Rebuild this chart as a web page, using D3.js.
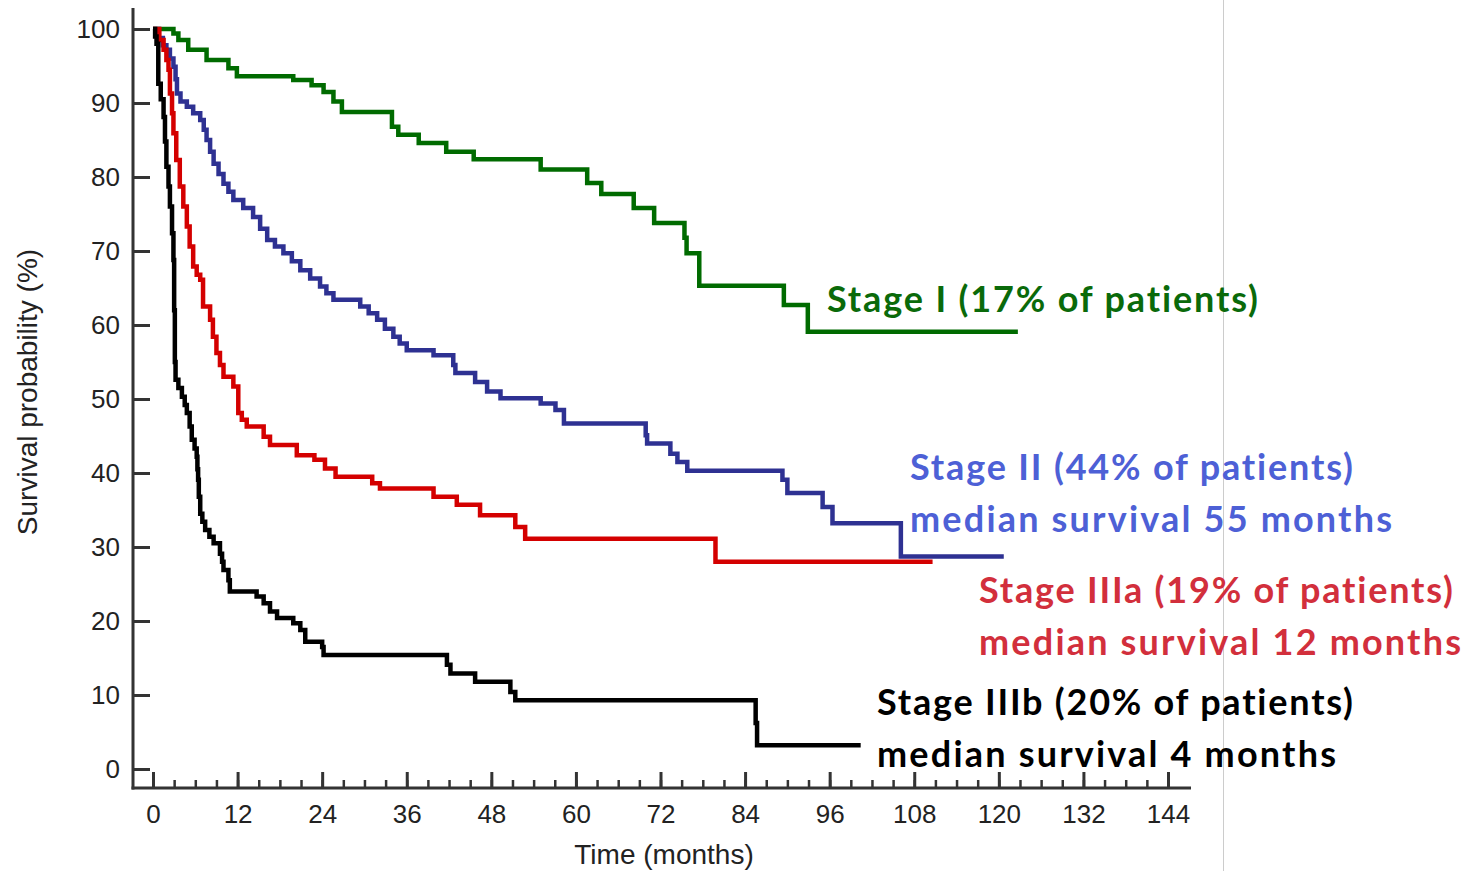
<!DOCTYPE html>
<html>
<head>
<meta charset="utf-8">
<script src="https://cdnjs.cloudflare.com/ajax/libs/d3/7.8.5/d3.min.js"></script>
<style>
  body { margin: 0; background: #fff; }
  svg { display: block; }
</style>
</head>
<body>
<div id="chart"></div>
<script>
// Kaplan-Meier survival by stage (months, %)

var xTicks = d3.range(0, 145, 12);
var xMinorTicks = d3.range(0, 145, 3);
var yTicks = d3.range(0, 101, 10);

var stageITime = [0, 2.9, 3.6, 5.0, 7.6, 10.7, 11.9, 19.9, 22.5, 24.2, 25.6, 26.8, 33.9, 34.8, 37.7, 41.6,
  45.5, 55, 61.6, 63.6, 68.2, 71.1, 75.4, 75.7, 77.5, 89.5, 92.9, 122.7];
var stageISurv = [100, 99.4, 98.5, 97.2, 95.8, 94.7, 93.6, 93.1, 92.4, 91.5, 90.2, 88.8, 86.8, 85.7, 84.6, 83.4,
  82.4, 81.0, 79.2, 77.7, 75.8, 73.8, 71.8, 69.7, 65.3, 62.7, 59.1, 59.1];

var stageIITime = [0, 0.8, 1.4, 1.9, 2.4, 2.9, 3.2, 3.4, 3.9, 4.8, 5.7, 6.7, 7.2, 7.6, 8.1, 8.6, 9.3, 10, 10.7,
  11.4, 12.8, 14.2, 15.2, 16.2, 17.3, 18.5, 19.7, 20.9, 22.3, 23.7, 24.6, 25.6, 29.4, 30.6, 31.8, 32.9, 34.1,
  35, 36, 39.8, 42.6, 42.9, 45.7, 47.4, 49.3, 55, 57.1, 58.3, 69.9, 70.1, 73.4, 74.4, 75.8, 89.3, 90, 95, 96.4,
  106.1, 120.7];
var stageIISurv = [100, 98.8, 97.8, 97.2, 96, 94.9, 93.2, 91.3, 90.2, 89.5, 88.6, 87.7, 86.4, 85, 83.4, 81.8,
  80.4, 79.1, 78, 76.9, 75.8, 74.6, 73, 71.5, 70.6, 69.7, 68.6, 67.4, 66.3, 65.2, 64.3, 63.4, 62.5, 61.6, 60.7,
  59.5, 58.4, 57.5, 56.6, 55.9, 54.6, 53.5, 52.3, 51, 50.1, 49.4, 48.5, 46.7, 45.1, 44, 42.6, 41.5, 40.3, 39.1,
  37.3, 35.4, 33.2, 28.7, 28.7];

var stageIIIaTime = [0, 0.9, 1.5, 1.9, 2.2, 2.4, 2.7, 2.9, 3.3, 3.8, 4.3, 4.8, 5.2, 5.7, 6.2, 6.7, 7.1, 8.1,
  8.5, 9, 9.5, 10, 11.4, 12.1, 12.6, 13.3, 15.7, 16.6, 20.4, 22.9, 24.4, 25.9, 31.1, 32.2, 39.8, 43.1, 46.4,
  51.4, 52.8, 79.8, 110.6];
var stageIIIaSurv = [100, 98.5, 97.2, 95.8, 94.5, 91.3, 88.6, 85.9, 82.3, 78.7, 76, 73.3, 70.6, 67.9, 66.8,
  66.1, 62.5, 60.7, 58.4, 56.2, 54.6, 53, 51.7, 48.1, 47.2, 46.3, 44.9, 43.8, 42.4, 41.8, 40.6, 39.5, 38.6,
  37.9, 36.8, 35.7, 34.3, 32.7, 31.1, 28, 28];

var stageIIIbTime = [0, 0.3, 0.5, 0.75, 1.1, 1.5, 1.7, 1.9, 2.2, 2.4, 2.7, 2.9, 3.0, 3.1, 3.2, 3.6, 4.1, 4.5,
  4.8, 5.2, 5.5, 5.9, 6.2, 6.3, 6.4, 6.5, 6.7, 7.0, 7.4, 8.0, 8.6, 9.5, 9.8, 10, 10.7, 10.9, 14.7, 15.7, 16.6,
  17.6, 19.9, 20.9, 21.6, 24, 24.2, 41.7, 42.2, 45.7, 50.7, 51.4, 85.5, 85.7, 100.4];
var stageIIIbSurv = [100, 99, 98, 92.6, 90.5, 88.1, 84.8, 81.4, 78.7, 76, 72.4, 68.8, 62, 55, 52.6, 51.5, 50.3,
  49.2, 48.1, 46.3, 44.5, 43.3, 42.2, 40.5, 39.1, 36.8, 34.5, 33.4, 32.3, 31.4, 30.5, 29.1, 28, 26.9, 25.5, 24,
  23.3, 22.4, 21.3, 20.4, 19.7, 18.8, 17.2, 16.5, 15.4, 14.1, 12.9, 11.8, 10.4, 9.3, 6.2, 3.2, 3.2];

var stageNames = ["Stage I", "Stage II", "Stage IIIa", "Stage IIIb"];
var stageColors = ["#006b00", "#2e3192", "#d40000", "#000000"];
var labelColors = ["#0a6a0a", "#4d60d6", "#d22f3c", "#000000"];
var labelLines = [
  ["Stage I (17% of patients)"],
  ["Stage II (44% of patients)", "median survival 55 months"],
  ["Stage IIIa (19% of patients)", "median survival 12 months"],
  ["Stage IIIb (20% of patients)", "median survival 4 months"]
];

var series = [
  { time: stageITime, surv: stageISurv },
  { time: stageIITime, surv: stageIISurv },
  { time: stageIIIaTime, surv: stageIIIaSurv },
  { time: stageIIIbTime, surv: stageIIIbSurv }
].map(function(s, i) {
  return {
    name: stageNames[i],
    color: stageColors[i],
    values: s.time.map(function(t, j) { return { t: t, s: s.surv[j] }; })
  };
});

var width = 1465, height = 871;
var axisX = 133, axisY = 788;
var axisColor = "#333333";

var svg = d3.select("#chart").append("svg")
    .attr("width", width)
    .attr("height", height);

var x = d3.scaleLinear().domain([0, 144]).range([153, 1168]);
var y = d3.scaleLinear().domain([0, 100]).range([769, 29]);

// slide edge line
svg.append("line")
    .attr("x1", 1223.5).attr("x2", 1223.5)
    .attr("y1", 0).attr("y2", height)
    .attr("stroke", "#cccccc")
    .attr("stroke-width", 1);

// y axis, ticks pointing inward
var yAxis = d3.axisLeft(y).tickValues(yTicks).tickSize(-17).tickPadding(13);
var gy = svg.append("g")
    .attr("transform", "translate(" + axisX + ",0)")
    .call(yAxis);
gy.select(".domain").remove();
gy.selectAll(".tick line").attr("stroke", axisColor).attr("stroke-width", 3);
gy.selectAll(".tick text")
    .style("font", "26px 'Liberation Sans', Arial, sans-serif")
    .attr("fill", "#222");

// x axis, major and minor ticks pointing inward
var xAxis = d3.axisBottom(x).tickValues(xTicks).tickSize(-16).tickPadding(17);
var gx = svg.append("g")
    .attr("transform", "translate(0," + axisY + ")")
    .call(xAxis);
gx.select(".domain").remove();
gx.selectAll(".tick line").attr("stroke", axisColor).attr("stroke-width", 3);
gx.selectAll(".tick text")
    .style("font", "26px 'Liberation Sans', Arial, sans-serif")
    .attr("fill", "#222");

var xMinor = d3.axisBottom(x).tickValues(xMinorTicks).tickSize(-8).tickFormat("");
var gxm = svg.append("g")
    .attr("transform", "translate(0," + axisY + ")")
    .call(xMinor);
gxm.select(".domain").remove();
gxm.selectAll(".tick line").attr("stroke", axisColor).attr("stroke-width", 2.5);

// axis lines
svg.append("line")
    .attr("x1", axisX).attr("x2", axisX)
    .attr("y1", 8).attr("y2", axisY + 1.5)
    .attr("stroke", axisColor).attr("stroke-width", 3);
svg.append("line")
    .attr("x1", axisX - 1.5).attr("x2", 1191)
    .attr("y1", axisY).attr("y2", axisY)
    .attr("stroke", axisColor).attr("stroke-width", 3);

// axis titles
svg.append("text")
    .attr("x", 664)
    .attr("y", 864)
    .attr("text-anchor", "middle")
    .style("font", "28px 'Liberation Sans', Arial, sans-serif")
    .attr("fill", "#222")
    .text("Time (months)");

svg.append("text")
    .attr("transform", "translate(37,392) rotate(-90)")
    .attr("text-anchor", "middle")
    .style("font", "28px 'Liberation Sans', Arial, sans-serif")
    .attr("fill", "#222")
    .text("Survival probability (%)");

// curves
var line = d3.line()
    .curve(d3.curveStepAfter)
    .x(function(d) { return x(d.t); })
    .y(function(d) { return y(d.s); });

svg.append("g")
  .selectAll("path")
  .data(series)
  .enter().append("path")
    .attr("d", function(d) { return line(d.values); })
    .attr("fill", "none")
    .attr("stroke", function(d) { return d.color; })
    .attr("stroke-width", 4.5)
    .attr("stroke-linejoin", "miter");

// stage labels (Calibri-like widths kept with a little extra letter spacing)
var labelPos = [
  { x: 827, y: 312, w: [431] },
  { x: 910, y: 480, w: [443, 482] },
  { x: 979, y: 603, w: [474, 482] },
  { x: 877, y: 715, w: [476, 459] }
];
var lineGap = 52;

var labels = svg.append("g")
  .selectAll("text")
  .data(labelLines)
  .enter().append("text")
    .attr("x", function(d, i) { return labelPos[i].x; })
    .attr("y", function(d, i) { return labelPos[i].y; })
    .attr("fill", function(d, i) { return labelColors[i]; })
    .style("font", "bold 36px Lato, 'Open Sans', sans-serif")
    .style("font-variant-ligatures", "none");

labels.each(function(lines, i) {
  d3.select(this).selectAll("tspan")
    .data(lines)
    .enter().append("tspan")
      .attr("x", labelPos[i].x)
      .attr("dy", function(d, j) { return j === 0 ? 0 : lineGap; })
      .attr("textLength", function(d, j) { return labelPos[i].w[j]; })
      .attr("lengthAdjust", "spacing")
      .text(function(d) { return d; });
});
</script>
</body>
</html>
